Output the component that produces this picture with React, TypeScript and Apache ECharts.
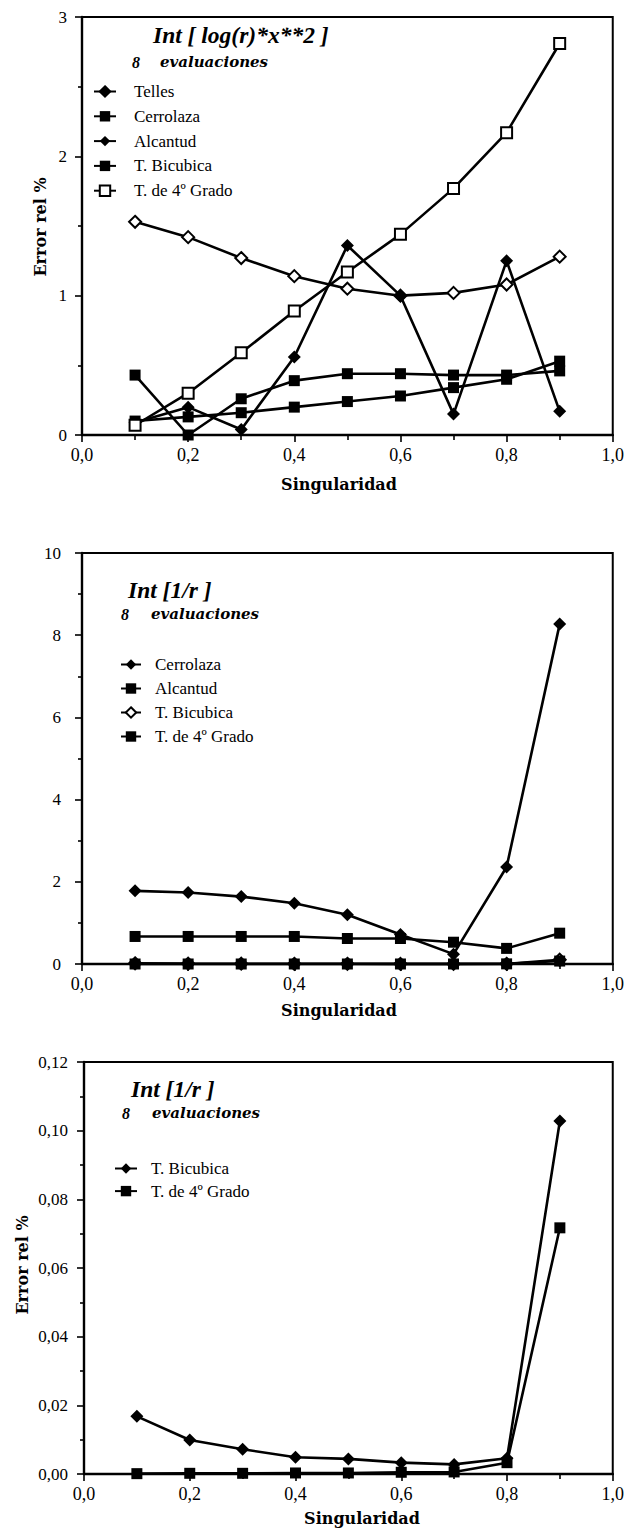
import React, { useEffect, useRef } from "react";
import * as echarts from "echarts";

// ---- data ----
const singularidad = [0.1, 0.2, 0.3, 0.4, 0.5, 0.6, 0.7, 0.8, 0.9];

// Int [ log(r)*x**2 ]
const telles1 = [1.53, 1.42, 1.27, 1.14, 1.05, 1.0, 1.02, 1.08, 1.28];
const cerrolaza1 = [0.43, 0.0, 0.26, 0.39, 0.44, 0.44, 0.43, 0.43, 0.46];
const alcantud1 = [0.09, 0.2, 0.04, 0.56, 1.36, 1.0, 0.15, 1.25, 0.17];
const bicubica1 = [0.1, 0.13, 0.16, 0.2, 0.24, 0.28, 0.34, 0.4, 0.53];
const cuarto1 = [0.07, 0.3, 0.59, 0.89, 1.17, 1.44, 1.77, 2.17, 2.81];

// Int [1/r ]
const cerrolaza2 = [1.78, 1.74, 1.64, 1.48, 1.2, 0.72, 0.24, 2.36, 8.27];
const alcantud2 = [0.67, 0.67, 0.67, 0.67, 0.62, 0.62, 0.53, 0.38, 0.75];
const bicubicaInv = [0.0168, 0.0099, 0.0072, 0.0049, 0.0044, 0.0033, 0.0028, 0.0046, 0.1028];
const cuartoInv = [0.0001, 0.0002, 0.0002, 0.0003, 0.0003, 0.0005, 0.0006, 0.0033, 0.0717];

const xTicks = { min: 0, max: 1, interval: 0.2 };
const yTicks1 = { min: 0, max: 3, interval: 1 };
const yTicks2 = { min: 0, max: 10, interval: 2 };
const yTicks3 = { min: 0, max: 0.12, interval: 0.02 };

const SERIF = '"Liberation Serif", "Times New Roman", serif';
const WIDE = '"DejaVu Serif", serif';

const pts = (ys: number[]) => singularidad.map((x, i) => [x, ys[i]]);

function line(name: string, ys: number[], symbol: string, size: number, hollow = false) {
  return {
    type: "line",
    name,
    data: pts(ys),
    symbol,
    symbolSize: size,
    showSymbol: true,
    clip: false,
    lineStyle: { color: "#000", width: 2.6 },
    itemStyle: hollow
      ? { color: "#fff", borderColor: "#000", borderWidth: 2 }
      : { color: "#000", borderColor: "#000", borderWidth: 0 },
    emphasis: { disabled: true },
  };
}

function txt(text: string, x: number, y: number, font: string, rotation = 0, align = "left") {
  return {
    type: "text",
    x,
    y,
    rotation,
    silent: true,
    style: {
      text,
      font,
      fill: "#000",
      textAlign: align,
      textVerticalAlign: "middle",
      align,
      verticalAlign: "middle",
    },
  };
}

function buildOption(cfg: any) {
  return {
    animation: false,
    backgroundColor: "#fff",
    grid: {
      ...cfg.grid,
      show: true,
      borderColor: "#000",
      borderWidth: 2,
      backgroundColor: "transparent",
    },
    xAxis: {
      type: "value",
      ...xTicks,
      axisLine: { show: true, lineStyle: { color: "#000", width: 2.4 } },
      axisTick: { show: true, inside: false, length: 7, lineStyle: { color: "#000", width: 1.6 } },
      minorTick: { show: true, splitNumber: 2, length: 5, lineStyle: { color: "#000", width: 1.6 } },
      splitLine: { show: false },
      axisLabel: {
        margin: 11,
        fontFamily: SERIF,
        fontSize: 18,
        color: "#000",
        formatter: (v: number) => v.toFixed(1).replace(".", ","),
      },
    },
    yAxis: {
      type: "value",
      ...cfg.yTicks,
      axisLine: { show: true, lineStyle: { color: "#000", width: 2.4 } },
      axisTick: { show: true, inside: false, length: 7, lineStyle: { color: "#000", width: 1.6 } },
      minorTick: { show: true, splitNumber: 2, length: 4, lineStyle: { color: "#000", width: 1.6 } },
      splitLine: { show: false },
      axisLabel: {
        margin: cfg.yMargin,
        fontFamily: SERIF,
        fontSize: 17,
        color: "#000",
        formatter: cfg.yFmt,
      },
    },
    legend: {
      orient: "vertical",
      left: cfg.legend.left,
      top: cfg.legend.top,
      padding: 0,
      itemWidth: cfg.legend.itemWidth,
      itemHeight: 13,
      itemGap: cfg.legend.itemGap,
      selectedMode: false,
      textStyle: {
        fontFamily: SERIF,
        fontSize: 17,
        color: "#000",
        padding: [0, 0, 0, cfg.legend.pad],
      },
      data: cfg.series.map((s: any) =>
        cfg.legendFilled && cfg.legendFilled.includes(s.name)
          ? { name: s.name, itemStyle: { color: "#000", borderColor: "#000" } }
          : s.name
      ),
    },
    graphic: cfg.graphic,
    series: cfg.series,
  };
}

const option1 = buildOption({
  grid: { left: 82, top: 17, width: 531, height: 418 },
  yTicks: yTicks1,
  yMargin: 15,
  yFmt: (v: number) => String(v),
  legend: { left: 93, top: 83, itemWidth: 22, itemGap: 7.8, pad: 13 },
  legendFilled: ["Telles"],
  series: [
    line("Telles", telles1, "diamond", 12, true),
    line("Cerrolaza", cerrolaza1, "rect", 11),
    line("Alcantud", alcantud1, "diamond", 13),
    line("T. Bicubica", bicubica1, "rect", 11),
    line("T. de 4º Grado", cuarto1, "rect", 11, true),
  ],
  graphic: [
    txt("Int [ log(r)*x**2 ]", 153, 35, `italic bold 23.5px ${SERIF}`),
    txt("8", 132, 62, `italic bold 16px ${SERIF}`),
    txt("evaluaciones", 160, 62, `italic bold 15px ${WIDE}`),
    txt("Singularidad", 339, 484, `bold 16px ${WIDE}`, 0, "center"),
    txt("Error rel %", 40, 227, `bold 16px ${WIDE}`, Math.PI / 2, "center"),
  ],
});

const option2 = buildOption({
  grid: { left: 82, top: 48, width: 531, height: 411 },
  yTicks: yTicks2,
  yMargin: 21,
  yFmt: (v: number) => String(v),
  legend: { left: 120, top: 151, itemWidth: 20, itemGap: 7, pad: 9 },
  series: [
    line("Cerrolaza", cerrolaza2, "diamond", 13),
    line("Alcantud", alcantud2, "rect", 11),
    line("T. Bicubica", bicubicaInv, "diamond", 12, true),
    line("T. de 4º Grado", cuartoInv, "rect", 11),
  ],
  graphic: [
    txt("Int [1/r ]", 128, 85, `italic bold 23.5px ${SERIF}`),
    txt("8", 121, 109, `italic bold 16px ${SERIF}`),
    txt("evaluaciones", 151, 109, `italic bold 15px ${WIDE}`),
    txt("Singularidad", 339, 505, `bold 16px ${WIDE}`, 0, "center"),
  ],
});

const option3 = buildOption({
  grid: { left: 84, top: 27, width: 530, height: 412 },
  yTicks: yTicks3,
  yMargin: 16,
  yFmt: (v: number) => v.toFixed(2).replace(".", ","),
  legend: { left: 114, top: 125, itemWidth: 22, itemGap: 5.6, pad: 9 },
  series: [
    line("T. Bicubica", bicubicaInv, "diamond", 13),
    line("T. de 4º Grado", cuartoInv, "rect", 11),
  ],
  graphic: [
    txt("Int [1/r ]", 131, 54, `italic bold 23.5px ${SERIF}`),
    txt("8", 122, 78, `italic bold 16px ${SERIF}`),
    txt("evaluaciones", 152, 78, `italic bold 15px ${WIDE}`),
    txt("Singularidad", 362, 483, `bold 16px ${WIDE}`, 0, "center"),
    txt("Error rel %", 22, 230, `bold 16px ${WIDE}`, Math.PI / 2, "center"),
  ],
});

function Panel({ top, height, option }: { top: number; height: number; option: any }) {
  const ref = useRef<HTMLDivElement>(null);
  useEffect(() => {
    if (!ref.current) return;
    const chart = echarts.init(ref.current, undefined, { renderer: "svg" });
    chart.setOption(option);
    return () => chart.dispose();
  }, [option]);
  return (
    <div
      ref={ref}
      style={{ position: "absolute", left: 0, top, width: 627, height }}
    />
  );
}

export default function App() {
  return (
    <div style={{ position: "absolute", left: 0, top: 0, width: 627, height: 1528, background: "#fff" }}>
      <Panel top={0} height={505} option={option1} />
      <Panel top={505} height={530} option={option2} />
      <Panel top={1035} height={493} option={option3} />
    </div>
  );
}
